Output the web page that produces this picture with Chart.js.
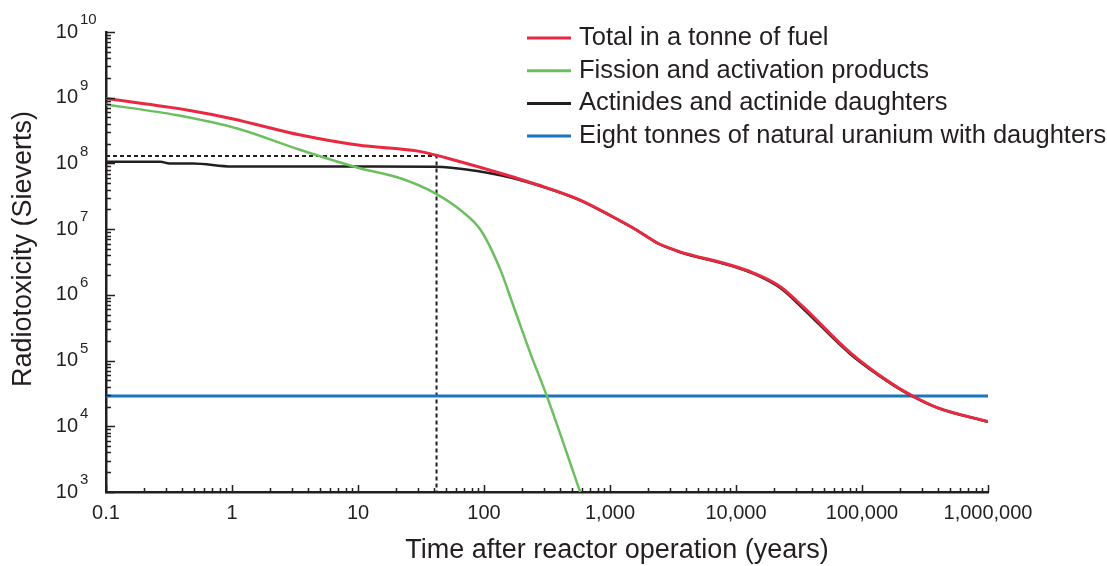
<!DOCTYPE html>
<html>
<head>
<meta charset="utf-8">
<title>Radiotoxicity of spent fuel</title>
<script src="https://cdn.jsdelivr.net/npm/chart.js@4.4.1/dist/chart.umd.min.js"></script>
<style>
    html, body { margin: 0; padding: 0; background: #fff; }
    #wrap { position: relative; width: 1107px; height: 566px; }
</style>
</head>
<body>
<div id="wrap"><canvas id="toxChart"></canvas></div>
<script>
// --- Data (years after reactor operation, Sieverts) ---
const totalYears = [0.1, 0.45, 1, 3.5, 10, 30, 40, 55, 135, 300, 580, 1060, 1600, 2400, 2900, 3600, 9000, 13800, 22500, 34000, 81000, 178000, 257000, 400000, 1000000];
const totalSv    = [9.7e8, 6.45e8, 4.8e8, 2.7e8, 1.9e8, 1.54e8, 1.36e8, 1.16e8, 7.1e7, 4.4e7, 2.77e7, 1.53e7, 9.9e6, 6.1e6, 5.25e6, 4.5e6, 2.85e6, 2.15e6, 1.33e6, 6.6e5, 1.31e5, 4.27e4, 2.84e4, 1.91e4, 1.18e4];

const fissionYears = [0.1, 0.37, 1.1, 3.5, 10, 22, 40, 65, 94, 135, 172, 233, 316, 580];
const fissionSv    = [7.9e8, 5.4e8, 3.4e8, 1.6e8, 8.6e7, 5.9e7, 3.6e7, 1.95e7, 9.7e6, 2.4e6, 6.6e5, 1.3e5, 2.85e4, 1.0e3];

const actinideYears = [0.1, 0.27, 0.32, 0.49, 1, 10, 40, 55, 135, 300, 580, 1060, 1600, 2400, 2900, 3600, 9000, 13800, 22500, 34000, 81000, 178000, 257000, 400000, 1000000];
const actinideSv    = [1.06e8, 1.06e8, 1.0e8, 1.0e8, 9.0e7, 9.0e7, 8.9e7, 8.6e7, 6.6e7, 4.35e7, 2.75e7, 1.52e7, 9.8e6, 6.05e6, 5.2e6, 4.45e6, 2.8e6, 2.1e6, 1.27e6, 6.2e5, 1.25e5, 4.2e4, 2.8e4, 1.9e4, 1.17e4];

const uraniumYears = [0.1, 1000000];
const uraniumSv    = [2.9e4, 2.9e4];

// dotted guide at the knee of the total curve
const guideYears = [0.1, 42, 42];
const guideSv    = [1.3e8, 1.3e8, 1e3];

const seriesLabels = [
    "Total in a tonne of fuel",
    "Fission and activation products",
    "Actinides and actinide daughters",
    "Eight tonnes of natural uranium with daughters"
];

// axis ticks
const xTickValues = [0.1, 1, 10, 100, 1000, 10000, 100000, 1000000];
const xTickLabels = ["0.1", "1", "10", "100", "1,000", "10,000", "100,000", "1,000,000"];
const yTickExponents = [3, 4, 5, 6, 7, 8, 9, 10];

const X_TITLE = "Time after reactor operation (years)";
const Y_TITLE = "Radiotoxicity (Sieverts)";

const INK = "#231f20";
const COLORS = {
    total: "#e8293f",
    fission: "#6cbf5f",
    actinide: "#231f20",
    uranium: "#1b75bb"
};
const FONT = "'Liberation Sans', Arial, Helvetica, sans-serif";

function toPoints(xs, ys) {
    return xs.map((t, i) => ({ x: t, y: ys[i] }));
}

// --- Inward ticks, superscript y labels, titles and legend ---
const decorPlugin = {
    id: "decor",
    afterDraw(chart) {
        const { ctx, chartArea, scales } = chart;
        const x = scales.x, y = scales.y;
        ctx.save();

        // tick marks pointing into the plot
        ctx.strokeStyle = INK;
        ctx.lineWidth = 1.5;
        ctx.beginPath();
        for (let e = -1; e <= 6; e++) {
            for (let m = 1; m <= 9; m++) {
                const v = m * Math.pow(10, e);
                if (v > x.max * 1.0001) break;
                const px = Math.round(x.getPixelForValue(v)) + 0.5;
                ctx.moveTo(px, chartArea.bottom);
                ctx.lineTo(px, chartArea.bottom - (m === 1 ? 7 : 4));
            }
        }
        for (let e = 3; e <= 10; e++) {
            for (let m = 1; m <= 9; m++) {
                const v = m * Math.pow(10, e);
                if (v > y.max * 1.0001) break;
                const py = Math.round(y.getPixelForValue(v)) + 0.5;
                ctx.moveTo(chartArea.left, py);
                ctx.lineTo(chartArea.left + (m === 1 ? 9 : 5), py);
            }
        }
        ctx.stroke();

        // y labels as 10 with a raised exponent
        ctx.fillStyle = INK;
        ctx.textBaseline = "middle";
        yTickExponents.forEach(e => {
            const py = y.getPixelForValue(Math.pow(10, e));
            ctx.font = "20px " + FONT;
            ctx.textAlign = "right";
            ctx.fillText("10", 78, py);
            ctx.font = "15px " + FONT;
            ctx.textAlign = "left";
            ctx.fillText(String(e), 80, py - 12);
        });

        // axis titles
        ctx.font = "27px " + FONT;
        ctx.textAlign = "center";
        ctx.fillText(X_TITLE, 617, 551);
        ctx.save();
        ctx.translate(24, 249);
        ctx.rotate(-Math.PI / 2);
        ctx.fillText(Y_TITLE, 0, 0);
        ctx.restore();

        // legend, top right
        ctx.font = "25.5px " + FONT;
        ctx.textAlign = "left";
        chart.data.datasets.slice(0, seriesLabels.length).forEach((ds, i) => {
            const ly = 38 + i * 32.7;
            ctx.strokeStyle = ds.borderColor;
            ctx.lineWidth = 3;
            ctx.beginPath();
            ctx.moveTo(527, ly);
            ctx.lineTo(571, ly);
            ctx.stroke();
            ctx.fillStyle = INK;
            ctx.fillText(ds.label, 579, ly);
        });

        ctx.restore();
    }
};

const ctx = document.getElementById("toxChart").getContext("2d");
new Chart(ctx, {
    type: "line",
    data: {
        datasets: [
            {
                label: seriesLabels[0],
                data: toPoints(totalYears, totalSv),
                borderColor: COLORS.total,
                borderWidth: 3,
                cubicInterpolationMode: "monotone"
            },
            {
                label: seriesLabels[1],
                data: toPoints(fissionYears, fissionSv),
                borderColor: COLORS.fission,
                borderWidth: 2.5,
                cubicInterpolationMode: "monotone"
            },
            {
                label: seriesLabels[2],
                data: toPoints(actinideYears, actinideSv),
                borderColor: COLORS.actinide,
                borderWidth: 2.5,
                cubicInterpolationMode: "monotone"
            },
            {
                label: seriesLabels[3],
                data: toPoints(uraniumYears, uraniumSv),
                borderColor: COLORS.uranium,
                borderWidth: 3
            },
            {
                label: "guide",
                data: toPoints(guideYears, guideSv),
                borderColor: INK,
                borderWidth: 2,
                borderDash: [4, 3],
                tension: 0
            }
        ]
    },
    options: {
        responsive: true,
        maintainAspectRatio: false,
        animation: false,
        events: [],
        elements: { point: { radius: 0 } },
        layout: { padding: { top: 32, right: 119, left: 0, bottom: 0 } },
        plugins: {
            legend: { display: false },
            tooltip: { enabled: false }
        },
        scales: {
            x: {
                type: "logarithmic",
                min: 0.1,
                max: 1000000,
                grid: { display: false, drawTicks: false },
                border: { display: true, color: INK, width: 2.5 },
                afterBuildTicks: scale => {
                    scale.ticks = xTickValues.map(v => ({ value: v, major: true }));
                },
                afterFit: scale => { scale.height = 74; },
                ticks: {
                    autoSkip: false,
                    maxRotation: 0,
                    padding: 9,
                    color: INK,
                    font: { family: FONT, size: 20 },
                    callback: (value, index) => xTickLabels[index]
                }
            },
            y: {
                type: "logarithmic",
                min: 1000,
                max: 1e10,
                grid: { display: false, drawTicks: false },
                border: { display: true, color: INK, width: 2.5 },
                afterBuildTicks: scale => {
                    scale.ticks = yTickExponents.map(e => ({ value: Math.pow(10, e), major: true }));
                },
                afterFit: scale => { scale.width = 106; },
                ticks: { display: false }
            }
        }
    },
    plugins: [decorPlugin]
});
</script>
</body>
</html>
